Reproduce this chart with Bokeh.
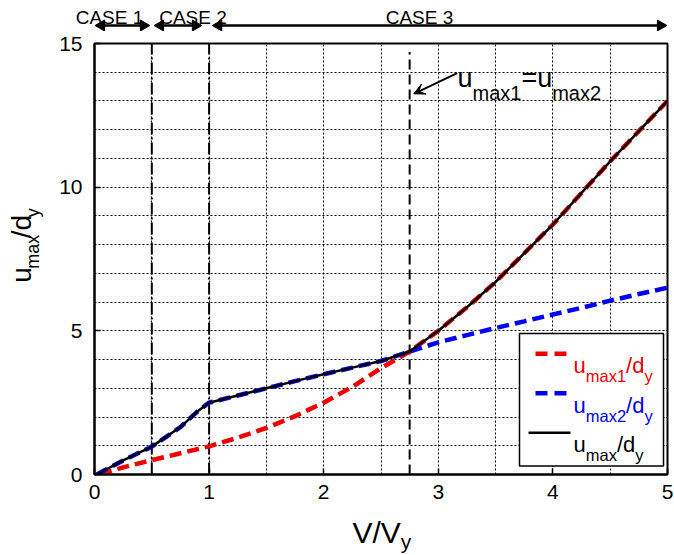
import math
from bokeh.plotting import figure
from bokeh.layouts import column, row
from bokeh.models import Range1d, FixedTicker, Label, Arrow, VeeHead, BoxAnnotation
from bokeh.embed import file_html
from bokeh.resources import INLINE

# ---------------- data ----------------
x_ticks = [0, 1, 2, 3, 4, 5]
y_ticks = [0, 5, 10, 15]
x_grid = [0.5, 1, 1.5, 2, 2.5, 3, 3.5, 4, 4.5]
y_grid = [1, 2, 3, 4, 5, 6, 7, 8, 9, 10, 11, 12, 13, 14]

# u_max1/d_y (red dashed)
red_x = [0.05, 0.25, 0.5, 0.75, 1.0, 1.25, 1.5, 1.75, 2.0, 2.25, 2.5, 2.75,
         3.0, 3.25, 3.5, 3.75, 4.0, 4.25, 4.5, 4.75, 5.0]
red_y = [0.0, 0.25, 0.5, 0.74, 0.98, 1.28, 1.62, 2.03, 2.5, 3.05, 3.7, 4.28,
         5.0, 5.82, 6.7, 7.7, 8.7, 9.8, 10.9, 11.95, 13.0]

# u_max2/d_y (blue dashed)
blue_x = [0.02, 0.25, 0.5, 0.75, 0.9, 1.0, 1.25, 1.5, 1.75, 2.0, 2.25, 2.5, 2.75,
          3.0, 3.25, 3.5, 3.75, 4.0, 4.25, 4.5, 4.75, 5.0]
blue_y = [0.0, 0.49, 0.97, 1.65, 2.2, 2.5, 2.75, 3.0, 3.25, 3.49, 3.72, 3.95, 4.28,
          4.6, 4.85, 5.1, 5.33, 5.57, 5.8, 6.05, 6.28, 6.5]

# u_max/d_y (black solid)
black_x = [0.02, 0.25, 0.5, 0.75, 0.9, 1.0, 1.25, 1.5, 1.75, 2.0, 2.25, 2.5, 2.75,
           3.0, 3.25, 3.5, 3.75, 4.0, 4.25, 4.5, 4.75, 5.0]
black_y = [0.0, 0.49, 0.97, 1.65, 2.2, 2.5, 2.75, 3.0, 3.25, 3.49, 3.72, 3.95, 4.28,
           5.0, 5.82, 6.7, 7.7, 8.7, 9.8, 10.9, 11.95, 13.0]

case_bounds = [0.5, 1.0]
case_top = 15.0
case_names = ["CASE 1", "CASE 2", "CASE 3"]
case_spans = [(0.017, 0.471), (0.532, 0.925), (1.04, 4.983)]
eq_x = 2.75
eq_top = 14.7

# ---------------- style / geometry (page pixels) ----------------
FONT = "Liberation Sans"
RED = "#ee0000"
BLUE = "#0000ee"

TOTAL_W = 674
TOP_H = 31            # strip with the CASE headers
LEFT_W = 50           # strip with the y title
FRAME_L, FRAME_R, FRAME_T, FRAME_B = 94, 667, 43, 474
MAIN_BOTTOM = 510     # page y where the bottom strip starts
BOT_H = 553 - MAIN_BOTTOM

XPU = (FRAME_R - FRAME_L) / 5.0
YPU = (FRAME_B - FRAME_T) / 15.0
def dx(px):   # page px -> main data x
    return (px - FRAME_L) / XPU
def dy(py):   # page px -> main data y
    return (FRAME_B - py) / YPU
def px_of(x):  # main data x -> page px
    return FRAME_L + x * XPU

W = {"u": .556, "m": .833, "a": .556, "x": .5, "1": .556, "2": .556, "/": .278,
     "d": .556, "y": .5, "V": .667, "=": .584}
def tw(s, size):
    return sum(W.get(c, 0.556) for c in s) * size

ident = lambda v: v

def rich_h(fig, parts, px, py, color="black", fx=ident, fy=ident):
    x = px
    for text, size, drop in parts:
        fig.add_layout(Label(x=fx(x), y=fy(py + drop), text=text, text_font=FONT,
                             text_font_size=f"{size}px", text_color=color,
                             text_baseline="alphabetic", text_align="left"))
        x += tw(text, size)

def rich_v(fig, parts, px, py, color="black"):
    y = py
    for text, size, drop in parts:
        fig.add_layout(Label(x=px + drop, y=y, text=text, text_font=FONT,
                             text_font_size=f"{size}px", text_color=color, angle=90,
                             angle_units="deg", text_baseline="alphabetic", text_align="left"))
        y -= tw(text, size)

def strip(x0, y0, w, h):
    f = figure(width=w, height=h, x_range=Range1d(x0, x0 + w), y_range=Range1d(y0 + h, y0),
               output_backend="svg", toolbar_location=None, min_border=0,
               x_axis_location=None, y_axis_location=None)
    f.outline_line_color = None
    f.background_fill_color = "white"
    f.border_fill_color = "white"
    f.grid.visible = False
    return f

# ---------------- main figure ----------------
p = figure(width=TOTAL_W - LEFT_W, height=MAIN_BOTTOM - TOP_H, x_range=Range1d(0, 5),
           y_range=Range1d(0, 15), output_backend="svg", toolbar_location=None,
           min_border_left=FRAME_L - LEFT_W, min_border_right=TOTAL_W - FRAME_R,
           min_border_top=FRAME_T - TOP_H, min_border_bottom=MAIN_BOTTOM - FRAME_B)
p.background_fill_color = "white"
p.border_fill_color = "white"
p.outline_line_color = "black"
p.outline_line_width = 2

for ax, tk in ((p.xaxis, x_ticks), (p.yaxis, y_ticks)):
    ax.ticker = FixedTicker(ticks=tk)
    ax.major_label_text_font = FONT
    ax.major_label_text_font_size = "21px"
    ax.major_label_text_color = "black"
    ax.axis_line_color = "black"
    ax.axis_line_width = 2
    ax.major_tick_in = 6
    ax.major_tick_out = 0
    ax.major_tick_line_width = 1.5
    ax.minor_tick_in = 0
    ax.minor_tick_out = 0
p.xaxis.major_label_standoff = 10
p.yaxis.major_label_standoff = 12

p.xgrid.ticker = FixedTicker(ticks=x_grid)
p.ygrid.ticker = FixedTicker(ticks=y_grid)
for g in (p.xgrid, p.ygrid):
    g.grid_line_color = "black"
    g.grid_line_alpha = 1.0
    g.grid_line_width = 1
    g.grid_line_dash = "2 2"

# vertical case boundaries (dash-dot) and the u_max1 = u_max2 line (dashed)
p.multi_line(xs=[[b, b] for b in case_bounds], ys=[[0, case_top] for b in case_bounds],
             line_color="black", line_width=2, line_dash="12 3 2 3")
p.line(x=[eq_x, eq_x], y=[0, eq_top], line_color="black", line_width=2, line_dash="10 5")

# curves
p.line(red_x, red_y, line_color=RED, line_width=4.5, line_dash="12 6")
p.line(blue_x, blue_y, line_color=BLUE, line_width=4.5, line_dash="12 6")
p.line(black_x, black_y, line_color="black", line_width=2.5)

# u_max1 = u_max2 pointer
p.add_layout(Arrow(x_start=dx(456.7), y_start=dy(72.7), x_end=dx(413.3), y_end=dy(93.3),
                   line_width=2, line_color="black",
                   end=VeeHead(size=11, fill_color="black", line_color="black")))
rich_h(p, [("u", 27, 0), ("max1", 20, 15.4), ("=u", 27, 0), ("max2", 20, 15.4)], 457, 77.3,
       fx=dx, fy=dy)

# legend
p.add_layout(BoxAnnotation(left=dx(519), right=dx(663), top=dy(333), bottom=dy(465.5),
                           fill_color="white", fill_alpha=1.0, line_color="black",
                           line_width=1.5, line_alpha=1.0))
legend_rows = [
    (RED, "12 7", 4.5, 535, 568.3, 353.3, 365, "max1"),
    (BLUE, "12 7", 4.5, 535, 568.3, 392.8, 404.5, "max2"),
    ("black", "solid", 2.5, 528, 570, 432.3, 444, "max"),
]
for col, dash, lw, x0, x1, ly, base, sub in legend_rows:
    p.add_layout(Arrow(x_start=dx(x0), y_start=dy(ly), x_end=dx(x1), y_end=dy(ly),
                       start=None, end=None, line_color=col, line_width=lw, line_dash=dash))
    rich_h(p, [("u", 22, 0), (sub, 16.5, 10.7), ("/d", 22, 0), ("y", 16.5, 10.7)], 573, base,
           col, fx=dx, fy=dy)

# ---------------- strips: case headers, axis titles ----------------
top = strip(0, 0, TOTAL_W, TOP_H)
case_text_px = [109, 192.5, 419]
AY = 25
HEAD = 11
for name, cx in zip(case_names, case_text_px):
    top.add_layout(Label(x=cx, y=16.5, text=name, text_font=FONT, text_font_size="19px",
                         text_color="black", text_align="center", text_baseline="alphabetic"))
sx0 = [px_of(a) + HEAD * 0.6 for a, b in case_spans]
sx1 = [px_of(b) - HEAD * 0.6 for a, b in case_spans]
top.segment(x0=sx0, y0=[AY] * 3, x1=sx1, y1=[AY] * 3, line_color="black", line_width=2.5)
top.scatter(x=[px_of(a) + HEAD * 0.45 for a, b in case_spans], y=[AY] * 3, marker="triangle",
            size=HEAD, angle=math.pi / 2, fill_color="black", line_color="black")
top.scatter(x=[px_of(b) - HEAD * 0.45 for a, b in case_spans], y=[AY] * 3, marker="triangle",
            size=HEAD, angle=-math.pi / 2, fill_color="black", line_color="black")

left = strip(0, TOP_H, LEFT_W, MAIN_BOTTOM - TOP_H)
rich_v(left, [("u", 28, 0), ("max", 18, 11), ("/d", 28, 0), ("y", 18, 11)], 21, 297)

bottom = strip(0, MAIN_BOTTOM, TOTAL_W, BOT_H)
rich_h(bottom, [("V/V", 30, 0), ("y", 21, 9)], 352, 532)

layout = column(top, row(left, p), bottom)
open("out.html", "w").write(file_html(layout, INLINE))
